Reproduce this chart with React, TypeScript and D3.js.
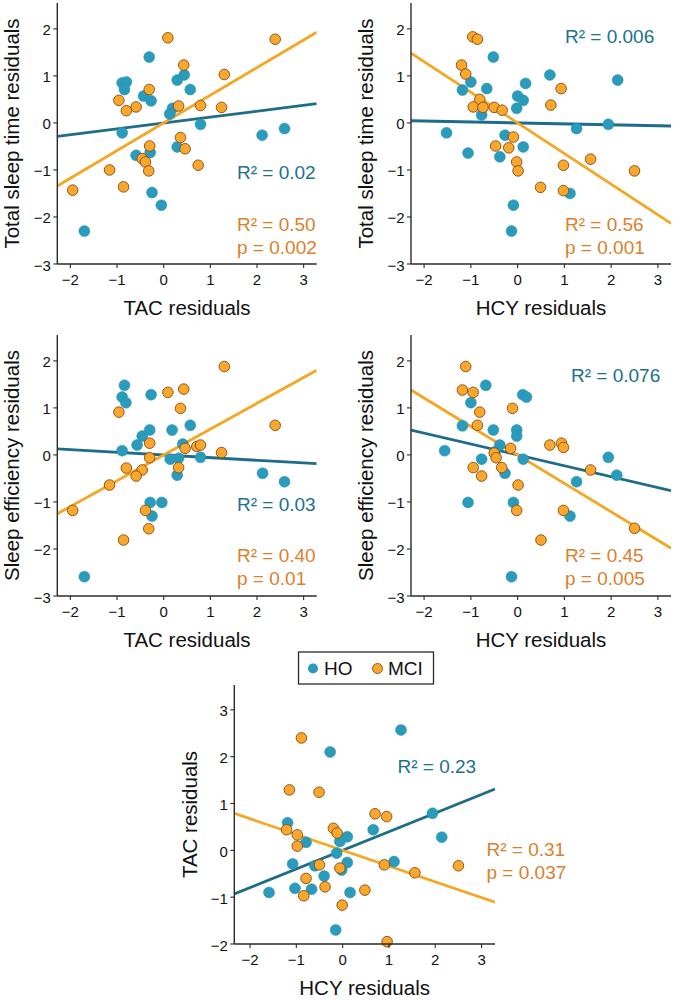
import React from "react";
import * as d3 from "d3";

// ---------- DATA ----------
const xTicks = [-2, -1, 0, 1, 2, 3];
const yTicksSleep = [-3, -2, -1, 0, 1, 2];
const yTicksTac = [-2, -1, 0, 1, 2, 3];

// Panel 1: TAC residuals vs Total sleep time residuals
const p1HO: [number, number][] = [
  [-0.31, 1.4], [-0.89, 0.85], [-0.8, 0.87], [-0.84, 0.71], [-0.43, 0.57], [-0.27, 0.47],
  [0.29, 0.91], [0.44, 1.02], [0.57, 0.71], [0.19, 0.31], [0.13, 0.19], [-0.89, -0.21],
  [0.79, -0.03], [-0.59, -0.69], [-0.29, -0.63], [0.29, -0.51], [-0.25, -1.48], [-0.05, -1.75],
  [2.11, -0.26], [2.59, -0.12], [-1.7, -2.3],
];
const p1MCI: [number, number][] = [
  [0.09, 1.81], [2.39, 1.78], [0.43, 1.23], [1.3, 1.03], [-0.31, 0.71], [-0.96, 0.48],
  [-0.59, 0.34], [-0.8, 0.26], [0.32, 0.36], [0.79, 0.37], [1.24, 0.33], [0.36, -0.31],
  [0.46, -0.55], [-0.3, -0.49], [-0.46, -0.76], [-0.39, -0.83], [-0.32, -1.02], [0.74, -0.9],
  [-1.16, -1.0], [-0.86, -1.36], [-1.95, -1.43],
];
// Panel 2: HCY residuals vs Total sleep time residuals
const p2HO: [number, number][] = [
  [-0.52, 1.4], [0.69, 1.02], [2.14, 0.91], [-1.0, 0.87], [-1.18, 0.7], [-0.66, 0.73],
  [0.17, 0.84], [0.0, 0.57], [0.12, 0.48], [-0.02, 0.31], [-0.77, 0.17], [-1.52, -0.21],
  [-1.06, -0.64], [-0.27, -0.26], [0.12, -0.51], [-0.38, -0.72], [1.26, -0.12], [1.94, -0.03],
  [1.12, -1.5], [-0.09, -1.75], [-0.13, -2.3],
];
const p2MCI: [number, number][] = [
  [-0.96, 1.83], [-0.86, 1.78], [-1.2, 1.23], [-1.11, 1.04], [0.93, 0.73], [-0.81, 0.5],
  [-0.95, 0.34], [-0.74, 0.33], [-0.5, 0.33], [-0.33, 0.27], [0.71, 0.38], [-0.09, -0.3],
  [-0.47, -0.49], [-0.19, -0.53], [-0.02, -0.83], [0.01, -1.02], [0.98, -0.9], [1.56, -0.77],
  [2.5, -1.02], [0.49, -1.37], [0.98, -1.44],
];
// Panel 3: TAC residuals vs Sleep efficiency residuals
const p3HO: [number, number][] = [
  [-0.84, 1.48], [-0.89, 1.23], [-0.81, 1.11], [-0.27, 1.28], [-0.3, 0.53], [-0.46, 0.4],
  [-0.57, 0.21], [-0.89, 0.09], [0.18, 0.53], [0.57, 0.63], [0.41, 0.23], [0.14, -0.09],
  [0.32, -0.07], [0.79, -0.05], [0.29, -0.43], [-0.29, -1.01], [-0.04, -1.01], [-0.25, -1.3],
  [2.12, -0.39], [2.59, -0.57], [-1.7, -2.59],
];
const p3MCI: [number, number][] = [
  [1.3, 1.88], [0.09, 1.33], [0.43, 1.4], [0.36, 0.99], [-0.96, 0.91], [2.39, 0.63],
  [-0.3, 0.25], [-0.3, -0.06], [-0.8, -0.28], [-0.46, -0.32], [-0.59, -0.45], [-1.16, -0.64],
  [0.46, 0.14], [0.71, 0.18], [0.79, 0.21], [1.24, 0.05], [0.32, -0.27], [-0.39, -1.18],
  [-0.32, -1.57], [-0.86, -1.81], [-1.95, -1.18],
];
// Panel 4: HCY residuals vs Sleep efficiency residuals
const p4HO: [number, number][] = [
  [-0.68, 1.48], [0.11, 1.28], [0.19, 1.23], [-1.0, 1.11], [-1.18, 0.62], [-0.52, 0.53],
  [-0.02, 0.53], [-0.02, 0.4], [-0.38, 0.21], [-1.56, 0.09], [-0.77, -0.09], [0.12, -0.09],
  [-0.27, -0.39], [1.94, -0.05], [2.12, -0.43], [1.26, -0.57], [-1.06, -1.01], [-0.09, -1.01],
  [1.12, -1.3], [-0.13, -2.59], [-0.48, 0.07],
];
const p4MCI: [number, number][] = [
  [-1.11, 1.88], [-1.18, 1.38], [-0.95, 1.33], [-0.11, 0.99], [-0.81, 0.91], [-0.86, 0.63],
  [-0.15, 0.14], [-0.5, 0.04], [-0.46, -0.06], [-0.95, -0.27], [-0.77, -0.45], [-0.34, -0.27],
  [0.01, -0.64], [-0.02, -1.18], [0.69, 0.21], [0.94, 0.25], [0.98, 0.16], [1.56, -0.32],
  [0.98, -1.18], [0.5, -1.81], [2.5, -1.56],
];
// Panel 5: HCY residuals vs TAC residuals
const p5HO: [number, number][] = [
  [1.26, 2.57], [-0.27, 2.1], [-1.19, 0.59], [-0.79, 0.17], [-1.08, -0.29], [-0.6, -0.33],
  [-1.03, -0.81], [-0.67, -0.83], [-0.4, -0.55], [-0.06, 0.19], [-0.13, -0.06], [-0.02, -0.42],
  [0.1, 0.29], [0.1, -0.26], [0.16, -0.9], [0.66, 0.44], [1.11, -0.24], [1.94, 0.79],
  [2.14, 0.28], [-1.59, -0.9], [-0.15, -1.7],
];
const p5MCI: [number, number][] = [
  [-0.89, 2.4], [-1.15, 1.29], [-0.51, 1.24], [-1.21, 0.44], [-0.98, 0.33], [-0.98, 0.09],
  [-0.2, 0.47], [-0.12, 0.37], [0.7, 0.78], [0.95, 0.72], [-0.5, -0.31], [-0.79, -0.6],
  [-0.38, -0.78], [-0.84, -0.97], [-0.06, -0.38], [-0.01, -1.17], [0.48, -0.85], [0.9, -0.31],
  [1.56, -0.48], [2.5, -0.33], [0.96, -1.95],
];

// Regression slopes (lines pass through origin: residuals)
const slopesHO = [0.125, -0.02, -0.057, -0.232, 0.398];
const slopesMCI = [0.588, -0.651, 0.549, -0.605, -0.337];

const statsHO = ["R² = 0.02", "R² = 0.006", "R² = 0.03", "R² = 0.076", "R² = 0.23"];
const statsMCI = ["R² = 0.50", "R² = 0.56", "R² = 0.40", "R² = 0.45", "R² = 0.31"];
const pMCI = ["p = 0.002", "p = 0.001", "p = 0.01", "p = 0.005", "p = 0.037"];

const xTitles = ["TAC residuals", "HCY residuals", "TAC residuals", "HCY residuals", "HCY residuals"];
const yTitles = [
  "Total sleep time residuals",
  "Total sleep time residuals",
  "Sleep efficiency residuals",
  "Sleep efficiency residuals",
  "TAC residuals",
];
const legendLabels = ["HO", "MCI"];

// ---------- STYLE ----------
const FONT = "'Liberation Sans', Arial, sans-serif";
const HO_FILL = "#2b9bbb";
const HO_LINE = "#1d6c89";
const HO_TEXT = "#20708f";
const MCI_FILL = "#f9a82c";
const MCI_STROKE = "#8a4a16";
const MCI_LINE = "#f5a623";
const MCI_TEXT = "#dc7f2c";
const AXIS = "#2b2b2b";

type Layout = {
  left: number; right: number; top: number; bottom: number;
  xDom: [number, number]; yDom: [number, number]; yTicks: number[];
  hoText: [number, number]; mciText: [number, number];
  yTitleOff: number;
};

const layouts: Layout[] = [
  { left: 57.3, right: 316.7, top: 3, bottom: 264, xDom: [-2.28, 3.28], yDom: [-3, 2.55], yTicks: yTicksSleep, hoText: [237, 179], mciText: [237, 230.5], yTitleOff: 38.5 },
  { left: 411, right: 671, top: 3, bottom: 264, xDom: [-2.28, 3.28], yDom: [-3, 2.55], yTicks: yTicksSleep, hoText: [565, 42.5], mciText: [565, 230.5], yTitleOff: 38.5 },
  { left: 57.3, right: 316.7, top: 335, bottom: 596, xDom: [-2.28, 3.28], yDom: [-3, 2.55], yTicks: yTicksSleep, hoText: [237, 510.5], mciText: [237, 561.5], yTitleOff: 38.5 },
  { left: 411, right: 671, top: 335, bottom: 596, xDom: [-2.28, 3.28], yDom: [-3, 2.55], yTicks: yTicksSleep, hoText: [571, 381.5], mciText: [565, 561.5], yTitleOff: 38.5 },
  { left: 234.3, right: 495, top: 685, bottom: 944, xDom: [-2.34, 3.29], yDom: [-2, 3.53], yTicks: yTicksTac, hoText: [397.5, 773], mciText: [486.5, 856], yTitleOff: 37 },
];

const panelData = [
  [p1HO, p1MCI],
  [p2HO, p2MCI],
  [p3HO, p3MCI],
  [p4HO, p4MCI],
  [p5HO, p5MCI],
];

const fmt = (v: number) => (v < 0 ? "\u2212" + Math.abs(v) : String(v));

function Panel({ i }: { i: number }) {
  const L = layouts[i];
  const [ho, mci] = panelData[i];
  const x = d3.scaleLinear().domain(L.xDom).range([L.left, L.right]);
  const y = d3.scaleLinear().domain(L.yDom).range([L.bottom, L.top]);
  const line = d3.line<[number, number]>().x((d) => x(d[0])).y((d) => y(d[1]));
  const lineFor = (s: number) =>
    line([[L.xDom[0], s * L.xDom[0]], [L.xDom[1], s * L.xDom[1]]]) || "";
  const clipId = `clip${i}`;
  const midY = (L.top + L.bottom) / 2;
  const midX = (L.left + L.right) / 2;
  return (
    <g>
      <defs>
        <clipPath id={clipId}>
          <rect x={L.left} y={L.top} width={L.right - L.left} height={L.bottom - L.top} />
        </clipPath>
      </defs>
      {/* regression lines */}
      <g clipPath={`url(#${clipId})`}>
        <path d={lineFor(slopesHO[i])} stroke={HO_LINE} strokeWidth={2.8} fill="none" />
        <path d={lineFor(slopesMCI[i])} stroke={MCI_LINE} strokeWidth={2.8} fill="none" />
      </g>
      {/* points */}
      {ho.map((d, k) => (
        <circle key={"h" + k} cx={x(d[0])} cy={y(d[1])} r={5.5} fill={HO_FILL} stroke="#2590ae" strokeWidth={0.5} />
      ))}
      {mci.map((d, k) => (
        <circle key={"m" + k} cx={x(d[0])} cy={y(d[1])} r={5.3} fill={MCI_FILL} stroke={MCI_STROKE} strokeWidth={0.9} />
      ))}
      {/* axes */}
      <line x1={L.left} x2={L.left} y1={L.top} y2={L.bottom} stroke={AXIS} strokeWidth={1.4} />
      <line x1={L.left} x2={L.right} y1={L.bottom} y2={L.bottom} stroke={AXIS} strokeWidth={1.4} />
      {xTicks.map((t) => (
        <g key={"xt" + t}>
          <line x1={x(t)} x2={x(t)} y1={L.bottom} y2={L.bottom + 4} stroke={AXIS} strokeWidth={1.1} />
          <text x={x(t)} y={L.bottom + 20.5} textAnchor="middle" fontSize={15} fill="#111" fontFamily={FONT}>
            {fmt(t)}
          </text>
        </g>
      ))}
      {L.yTicks.map((t) => (
        <g key={"yt" + t}>
          <line x1={L.left - 4} x2={L.left} y1={y(t)} y2={y(t)} stroke={AXIS} strokeWidth={1.1} />
          <text x={L.left - 6.5} y={y(t) + 6.5} textAnchor="end" fontSize={15} fill="#111" fontFamily={FONT}>
            {fmt(t)}
          </text>
        </g>
      ))}
      {/* titles */}
      <text x={midX} y={L.bottom + 51} textAnchor="middle" fontSize={20.5} fill="#111" fontFamily={FONT}>
        {xTitles[i]}
      </text>
      <text
        transform={`translate(${L.left - L.yTitleOff},${midY}) rotate(-90)`}
        textAnchor="middle"
        fontSize={20.5}
        fill="#111"
        fontFamily={FONT}
      >
        {yTitles[i]}
      </text>
      {/* stats */}
      <text x={L.hoText[0]} y={L.hoText[1]} fontSize={19} fill={HO_TEXT} fontFamily={FONT}>
        {statsHO[i]}
      </text>
      <text x={L.mciText[0]} y={L.mciText[1]} fontSize={19} fill={MCI_TEXT} fontFamily={FONT}>
        {statsMCI[i]}
      </text>
      <text x={L.mciText[0]} y={L.mciText[1] + 23} fontSize={19} fill={MCI_TEXT} fontFamily={FONT}>
        {pMCI[i]}
      </text>
    </g>
  );
}

export default function App() {
  return (
    <div style={{ position: "absolute", left: 0, top: 0 }}>
      <svg width={675} height={1001} style={{ display: "block", background: "#fff" }}>
        <rect x={0} y={0} width={675} height={1001} fill="#fff" />
        {layouts.map((_, i) => (
          <Panel key={i} i={i} />
        ))}
        {/* legend */}
        <g>
          <rect x={298.5} y={652} width={135} height={32} fill="#fff" stroke={AXIS} strokeWidth={1.3} />
          <circle cx={313} cy={668.5} r={5} fill={HO_FILL} />
          <text x={324} y={675} fontSize={19} fill="#111" fontFamily={FONT}>
            {legendLabels[0]}
          </text>
          <circle cx={377.5} cy={668.5} r={5} fill={MCI_FILL} stroke={MCI_STROKE} strokeWidth={0.9} />
          <text x={388} y={675} fontSize={19} fill="#111" fontFamily={FONT}>
            {legendLabels[1]}
          </text>
        </g>
      </svg>
    </div>
  );
}
